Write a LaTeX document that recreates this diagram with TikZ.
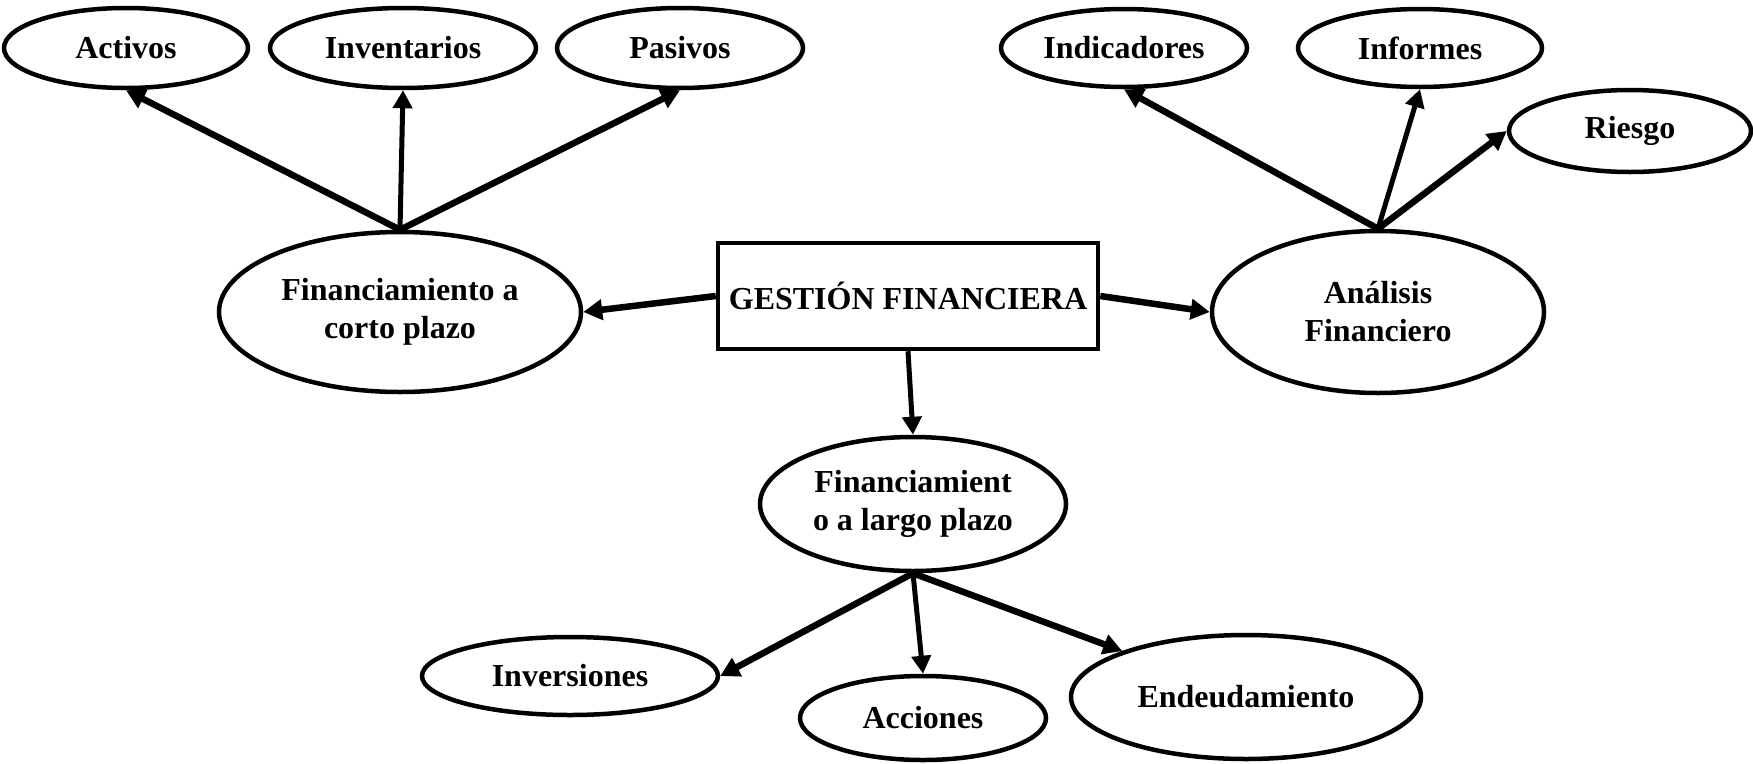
\documentclass[tikz,border=0pt]{standalone}
\usepackage{fontspec}
\setmainfont{Liberation Serif}
\usetikzlibrary{shapes.geometric,arrows.meta}
\begin{document}
\begin{tikzpicture}[x=1pt,y=-1pt,
  txt/.style={font=\fontsize{32}{38}\selectfont\bfseries},
  el/.style={ellipse,draw,line width=4.5pt,inner sep=0pt,align=center,txt},
  bx/.style={rectangle,draw,line width=4.5pt,inner sep=0pt,txt},
  arrA/.style={line width=6.5pt,-{Triangle[length=19pt,width=20pt]}},
  arrB/.style={line width=5pt,-{Triangle[length=18pt,width=19pt]}}]
\useasboundingbox (0,0) rectangle (1753,763);
% top-left
\node[el,minimum width=244pt,minimum height=80pt] (act) at (126,48) {Activos};
\node[el,minimum width=266pt,minimum height=80pt] (inv) at (403,48) {Inventarios};
\node[el,minimum width=246pt,minimum height=80pt] (pas) at (680,48) {Pasivos};
% top-right
\node[el,minimum width=246pt,minimum height=78pt] (ind) at (1124,48) {Indicadores};
\node[el,minimum width=244pt,minimum height=78pt] (inf) at (1420,48) {Informes};
\node[el,minimum width=242pt,minimum height=82pt] (rie) at (1630,131) {Riesgo};
% middle
\node[el,minimum width=362pt,minimum height=160pt] (cor) at (400,312) {Financiamiento a\\corto plazo};
\node[bx,minimum width=380pt,minimum height=106pt] (g) at (908,296) {GESTIÓN FINANCIERA};
\node[el,minimum width=332pt,minimum height=162pt] (ana) at (1378,312) {Análisis\\Financiero};
\node[el,minimum width=306pt,minimum height=134pt] (lar) at (913,504) {Financiamient\\o a largo plazo};
% bottom
\node[el,minimum width=296pt,minimum height=78pt] (ver) at (570,676) {Inversiones};
\node[el,minimum width=246pt,minimum height=84pt] (acc) at (923,718) {Acciones};
\node[el,minimum width=350pt,minimum height=124pt] (end) at (1246,697) {Endeudamiento};
% connectors
\draw[arrA] (cor.north) -- (act.south);
\draw[arrB] (cor.north) -- (inv.south);
\draw[arrA] (cor.north) -- (pas.south);
\draw[arrA] (ana.north) -- (ind.south);
\draw[arrB] (ana.north) -- (inf.south);
\draw[arrA] (ana.north) -- (rie.west);
\draw[arrA] (g.west) -- (cor.east);
\draw[arrA] (g.east) -- (ana.west);
\draw[arrB] (g.south) -- (lar.north);
\draw[arrA] (lar.south) -- (ver.east);
\draw[arrB] (lar.south) -- (acc.north);
\draw[arrA] (lar.south) -- (end);
\end{tikzpicture}
\end{document}
